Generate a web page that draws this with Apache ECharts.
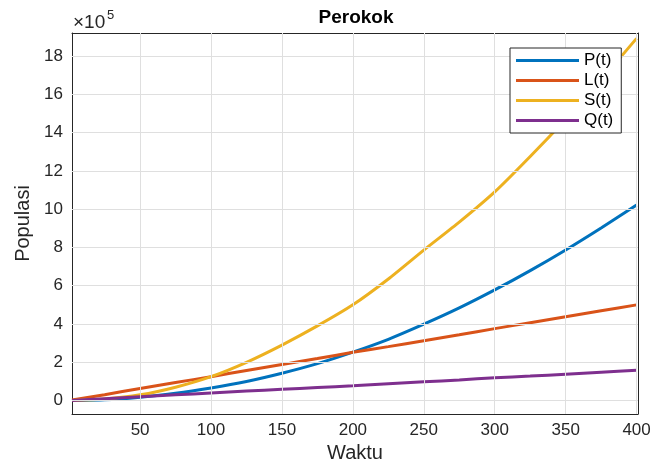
<!DOCTYPE html>
<html lang="en">
<head>
    <meta charset="UTF-8">
    <title>Perokok</title>
    <script src="https://cdn.jsdelivr.net/npm/echarts@6/dist/echarts.min.js"></script>
    <style>
        html, body { margin: 0; padding: 0; background: #fff; }
    </style>
</head>
<body>
    <div id="chart" style="width: 653px; height: 463px;"></div>
    <script>
        // waktu (t) dan nilai populasi dalam satuan 10^5
        const waktu = [2, 25, 50, 75, 100, 125, 150, 175, 200, 225, 250, 275, 300, 325, 350, 375, 400];
        const P = [0, 0.04, 0.18, 0.38, 0.66, 1.0, 1.43, 1.93, 2.53, 3.2, 3.99, 4.84, 5.78, 6.79, 7.87, 9.02, 10.22];
        const L = [0.03, 0.31, 0.63, 0.94, 1.25, 1.57, 1.88, 2.2, 2.52, 2.82, 3.13, 3.44, 3.76, 4.07, 4.38, 4.69, 5.0];
        const S = [0, 0.08, 0.3, 0.7, 1.25, 2.0, 2.9, 3.9, 5.0, 6.35, 7.86, 9.32, 10.9, 12.75, 14.7, 16.75, 18.92];
        const Q = [0, 0.1, 0.2, 0.3, 0.4, 0.5, 0.59, 0.68, 0.77, 0.88, 0.98, 1.08, 1.19, 1.28, 1.38, 1.48, 1.58];
        const seriesNames = ['P(t)', 'L(t)', 'S(t)', 'Q(t)'];
        const xTicks = [50, 100, 150, 200, 250, 300, 350, 400];
        const yTicks = [0, 2, 4, 6, 8, 10, 12, 14, 16, 18];
        const colors = ['#0072BD', '#D95319', '#EDB120', '#7E2F8E'];

        const font = 'Liberation Sans, Arial, sans-serif';
        const pairs = arr => waktu.map((t, i) => [t, arr[i]]);

        const chart = echarts.init(document.getElementById('chart'));

        const dark = '#262626';
        const grid = '#dfdfdf';

        function makeAxis(ticks, extra) {
            return Object.assign({
                type: 'value',
                axisLine: { show: true, onZero: false, lineStyle: { color: dark, width: 1 } },
                axisTick: { show: true, inside: true, length: 6, customValues: ticks, lineStyle: { color: dark } },
                axisLabel: { show: false, customValues: ticks },
                splitLine: { show: false }
            }, extra);
        }

        const xMain = makeAxis(xTicks, {
            min: 2, max: 401,
            name: 'Waktu', nameLocation: 'middle', nameGap: 28,
            nameTextStyle: { fontFamily: font, fontSize: 20, color: dark }
        });
        xMain.axisLabel = { show: true, customValues: xTicks, fontFamily: font, fontSize: 17, color: dark, margin: 8 };

        const yMain = makeAxis(yTicks, {
            min: -0.7, max: 19.2,
            name: 'Populasi', nameLocation: 'middle', nameGap: 38,
            nameTextStyle: { fontFamily: font, fontSize: 20, color: dark }
        });
        yMain.axisLabel = { show: true, customValues: yTicks, fontFamily: font, fontSize: 17, color: dark, margin: 9 };

        const lines = [P, L, S, Q].map((arr, i) => ({
            name: seriesNames[i],
            type: 'line',
            data: pairs(arr),
            smooth: 0.2,
            showSymbol: false,
            itemStyle: { color: colors[i] },
            lineStyle: { width: 3, color: colors[i] },
            z: 3
        }));

        // garis grid lewat markLine pada nilai tick
        const gridLines = {
            name: 'grid', type: 'line', data: [], silent: true, z: 1,
            itemStyle: { color: grid },
            markLine: {
                silent: true, symbol: 'none', label: { show: false }, animation: false,
                lineStyle: { color: grid, width: 1, type: 'solid' },
                data: xTicks.map(v => ({ xAxis: v })).concat(yTicks.map(v => ({ yAxis: v })))
            }
        };

        const option = {
            animation: false,
            color: colors,
            grid: { left: 72, right: 15, top: 33, bottom: 49, outerBoundsMode: 'none', containLabel: false },
            xAxis: [xMain, makeAxis(xTicks, { min: 2, max: 401, position: 'top' })],
            yAxis: [yMain, makeAxis(yTicks, { min: -0.7, max: 19.2, position: 'right' })],
            legend: {
                orient: 'vertical',
                left: 510, top: 48,
                z: 10,
                padding: [4, 8, 4, 6],
                itemGap: 3,
                itemWidth: 63, itemHeight: 3,
                icon: 'rect',
                backgroundColor: '#fff',
                borderColor: dark, borderWidth: 1,
                textStyle: { fontFamily: font, fontSize: 17, color: '#000', lineHeight: 17 },
                data: seriesNames
            },
            graphic: [
                { type: 'text', x: 356, y: 8, style: { text: 'Perokok', font: 'bold 19px ' + font, fill: '#000', align: 'center' } },
                { type: 'text', x: 73, y: 13, style: { text: '×10', font: '19px ' + font, fill: dark } },
                { type: 'text', x: 107, y: 9, style: { text: '5', font: '13px ' + font, fill: dark } }
            ],
            series: lines.concat([gridLines])
        };
        chart.setOption(option);
    </script>
</body>
</html>
